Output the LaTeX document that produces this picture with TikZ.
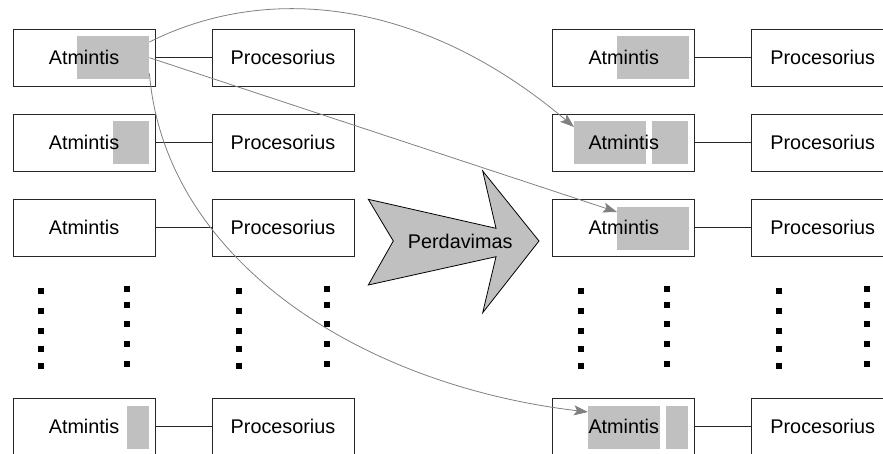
\documentclass[tikz,border=0pt]{standalone}
\usepackage{fontspec}
\setmainfont{Liberation Sans}
\usetikzlibrary{arrows.meta}
\definecolor{shade}{HTML}{C0C0C0}
\definecolor{link}{HTML}{808080}
\begin{document}
\begin{tikzpicture}[x=1pt,y=-1pt,
  box/.style={draw=black!85, line width=0.9pt, minimum width=142pt,
    minimum height=57pt, inner sep=0pt, font=\fontsize{19.8}{24}\selectfont},
  block/.style={fill=shade, draw=none, inner sep=0pt, anchor=north west,
    minimum height=43pt},
  tie/.style={draw=black!85, line width=0.9pt},
  move/.style={draw=link, line width=0.8pt,
    -{Stealth[length=14pt,width=10pt,inset=3pt]}},
  bigarrow/.style={fill=shade, draw=black, line width=0.8pt, line join=miter},
  label/.style={font=\fontsize{19.8}{24}\selectfont, inner sep=0pt}
]
\useasboundingbox (0,0) rectangle (883,454);

% shaded memory blocks (drawn first so the text sits on top)
\node[block, minimum width=72pt] (l1) at (77,36) {};
\node[block, minimum width=36pt] (l2) at (113,121) {};
\node[block, minimum width=22pt] (l5) at (127,406) {};
\node[block, minimum width=72pt] (r1) at (617,36) {};
\node[block, minimum width=72pt] (r2a) at (574,121) {};
\node[block, minimum width=36pt] (r2b) at (652,121) {};
\node[block, minimum width=72pt] (r3) at (617,207) {};
\node[block, minimum width=72pt] (r5a) at (588,406) {};
\node[block, minimum width=22pt] (r5b) at (666,406) {};

% left machine: memory -- processor pairs
\node[box] (la1) at (84,57.5) {Atmintis};
\node[box] (lp1) at (283,57.5) {Procesorius};
\node[box] (la2) at (84,142.5) {Atmintis};
\node[box] (lp2) at (283,142.5) {Procesorius};
\node[box] (la3) at (84,227.5) {Atmintis};
\node[box] (lp3) at (283,227.5) {Procesorius};
\node[box] (la5) at (84,426.8) {Atmintis};
\node[box] (lp5) at (283,426.8) {Procesorius};

% right machine
\node[box] (ra1) at (623.7,57.5) {Atmintis};
\node[box] (rp1) at (822.7,57.5) {Procesorius};
\node[box] (ra2) at (623.7,142.5) {Atmintis};
\node[box] (rp2) at (822.7,142.5) {Procesorius};
\node[box] (ra3) at (623.7,227.5) {Atmintis};
\node[box] (rp3) at (822.7,227.5) {Procesorius};
\node[box] (ra5) at (623.7,426.8) {Atmintis};
\node[box] (rp5) at (822.7,426.8) {Procesorius};

\foreach \s in {l,r}{
  \foreach \k in {1,2,3,5}{
    \draw[tie] (\s a\k.east) -- (\s p\k.west);
  }
}

% vertical ellipsis dots
\foreach \x in {40.5,239,580.5,779}{
  \foreach \y in {290.7,311,331,349.3,366.3}{
    \fill (\x-3,\y-3) rectangle ++(6,6);
  }
}
\foreach \x in {127,326.5,667,866.5}{
  \foreach \y in {289,305,323.5,344,363.5}{
    \fill (\x-3,\y-3) rectangle ++(6,6);
  }
}

% transfer arrow
\draw[bigarrow] (368.3,199.3) -- (496,228.3) -- (482.7,171) -- (539,241)
  -- (482.7,312.7) -- (496,256.7) -- (368.3,285) -- (393.3,241) -- cycle;
\node[label] (send) at (460.2,241) {Perdavimas};

% data movements
\draw[move] ([yshift=-6pt]l1.north east) .. controls (269,-18) and (424,0)
  .. ([yshift=-6pt]r2a.north west);
\draw[move] (l1.east) -- ([yshift=-5pt]r3.north west);
\draw[move] ([yshift=6pt]l1.south east) .. controls (165,260) and (360,385)
  .. ([yshift=-6pt]r5a.north west);
\end{tikzpicture}
\end{document}
